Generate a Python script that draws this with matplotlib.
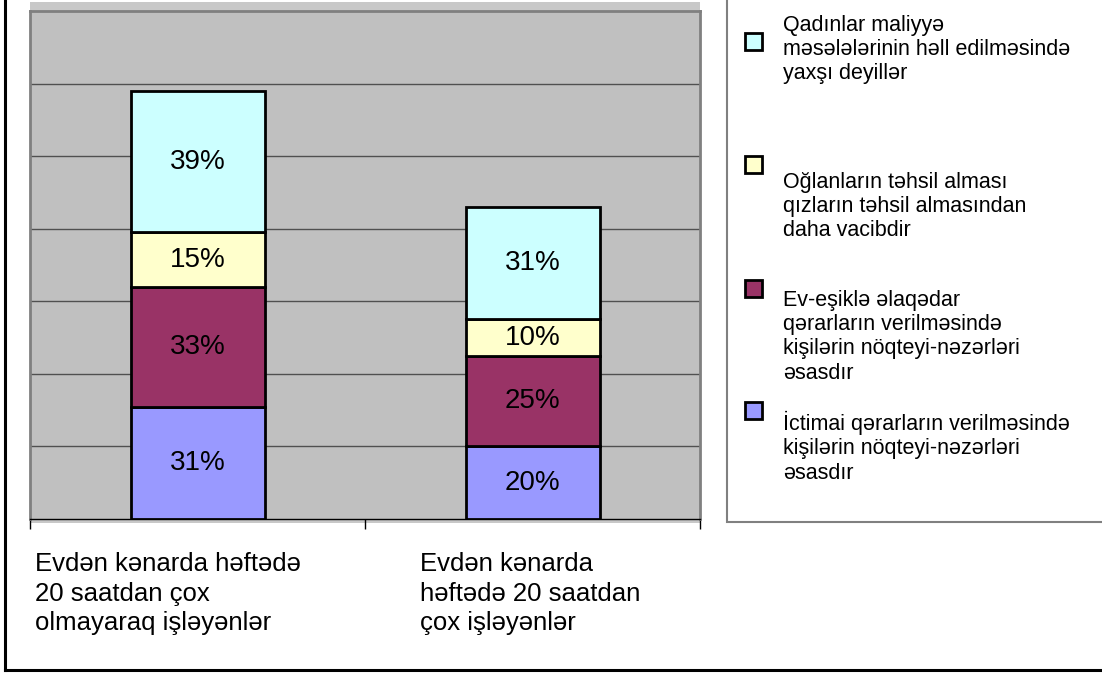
import matplotlib.pyplot as plt
from matplotlib.patches import Rectangle
from matplotlib.lines import Line2D

plt.rcParams['font.family'] = ['Liberation Sans', 'DejaVu Sans']

# data
categories = ['Evdən kənarda həftədə\n20 saatdan çox\nolmayaraq işləyənlər',
              'Evdən kənarda\nhəftədə 20 saatdan\nçox işləyənlər']
series_names = ['İctimai qərarların verilməsində\nkişilərin nöqteyi-nəzərləri\nəsasdır',
                'Ev-eşiklə əlaqədar\nqərarların verilməsində\nkişilərin nöqteyi-nəzərləri\nəsasdır',
                'Oğlanların təhsil alması\nqızların təhsil almasından\ndaha vacibdir',
                'Qadınlar maliyyə\nməsələlərinin həll edilməsində\nyaxşı deyillər']
ictimai = [31, 20]
ev_esik = [33, 25]
oglanlar = [15, 10]
qadinlar = [39, 31]
colors = ['#9999FF', '#993366', '#FFFFCC', '#CCFFFF']

W, H = 1102, 673
fig = plt.figure(figsize=(W / 100, H / 100), dpi=100)


def fx(x):
    return x / W


def fy(y):
    return 1 - y / H


# light wall behind the plot area
fig.add_artist(Rectangle((fx(30), fy(523)), fx(700) - fx(30), fy(2) - fy(523),
                         transform=fig.transFigure, facecolor='#C8C8C8',
                         edgecolor='none', zorder=0))

ax = fig.add_axes([fx(30), fy(519), fx(700) - fx(30), fy(11) - fy(519)])
ax.set_facecolor('#C0C0C0')
for side in ['left', 'top', 'right']:
    ax.spines[side].set_color('#808080')
    ax.spines[side].set_linewidth(2)
ax.spines['bottom'].set_color('black')
ax.spines['bottom'].set_linewidth(1)

x = [0, 1]
bottom = [0, 0]
for vals, col in zip([ictimai, ev_esik, oglanlar, qadinlar], colors):
    bars = ax.bar(x, vals, 0.4, bottom=bottom, color=col, edgecolor='black',
                  linewidth=2, zorder=3)
    ax.bar_label(bars, labels=[f'{v}%' for v in vals], label_type='center',
                 fontsize=20, color='black')
    bottom = [b + v for b, v in zip(bottom, vals)]

ax.set_ylim(0, 140)
ax.set_yticks(range(20, 140, 20))
ax.tick_params(axis='y', length=0, labelleft=False)
ax.grid(axis='y', color='#505050', linewidth=1, zorder=1)
ax.set_axisbelow(True)

ax.set_xlim(-0.5, 1.5)
ax.set_xticks([-0.5, 0.5, 1.5])
ax.tick_params(axis='x', length=7, width=1, color='black', labelbottom=False)

# category labels
label_x = [35, 420]
for lx, txt in zip(label_x, categories):
    fig.text(fx(lx), fy(552), txt, fontsize=18.5, va='top', ha='left',
             linespacing=1.3)

# outer frame
fig.add_artist(Line2D([fx(5), fx(5)], [fy(0), fy(670)], color='black', lw=2.2,
                      transform=fig.transFigure))
fig.add_artist(Line2D([fx(5), fx(1102)], [fy(670), fy(670)], color='black', lw=2.2,
                      transform=fig.transFigure))

# legend box
fig.add_artist(Rectangle((fx(727), fy(522)), fx(1110) - fx(727), fy(-5) - fy(522),
                         transform=fig.transFigure, facecolor='white',
                         edgecolor='#808080', lw=1.5, zorder=0))

square_y = [402, 280, 156, 33]
text_top = [411, 290, 172, 15]
for name, col, sy, ty in zip(series_names, colors, square_y, text_top):
    fig.add_artist(Rectangle((fx(745), fy(sy + 17)), fx(17), 17 / H,
                             transform=fig.transFigure, facecolor=col,
                             edgecolor='black', lw=2, zorder=2))
    fig.text(fx(783), fy(ty), name, fontsize=15.5, va='top', ha='left',
             linespacing=1.2)

fig.savefig('out.png', dpi=100)
